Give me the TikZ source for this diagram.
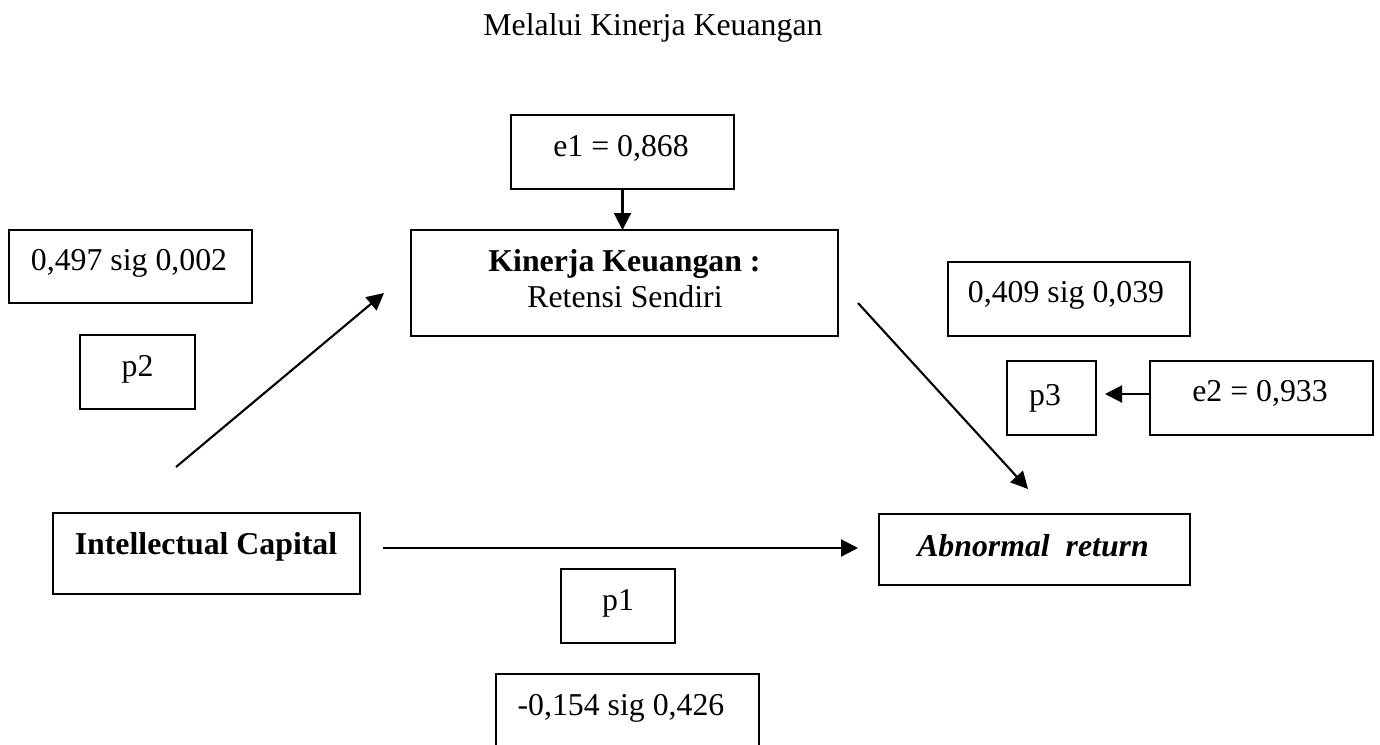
\documentclass[tikz,border=0pt]{standalone}
\usepackage{fontspec}
\setmainfont{Liberation Serif}
\usetikzlibrary{arrows.meta}
\begin{document}
\begin{tikzpicture}[x=0.5pt,y=-0.5pt,
  bx/.style={draw,line width=0.75pt,inner sep=0pt,outer sep=0pt},
  tx/.style={anchor=base,inner sep=0pt,font=\fontsize{15.9}{19}\selectfont},
  arr/.style={line width=1.05pt,-{Triangle[length=8.5pt,width=8.5pt]}}]
\useasboundingbox (0,0) rectangle (1380,744);
\clip (0,0) rectangle (1380,744);
\fill[white] (0,0) rectangle (1380,744);
% title
\node[tx,anchor=base west] (title) at (483,35) {Melalui Kinerja Keuangan};
% boxes
\node[bx,minimum width=111.5pt,minimum height=37pt] (e1) at (622.5,152) {};
\node[bx,minimum width=213.5pt,minimum height=53pt] (kin) at (624.5,283) {};
\node[bx,minimum width=121.5pt,minimum height=36.5pt] (c2) at (130.5,266.5) {};
\node[bx,minimum width=57.5pt,minimum height=37pt] (p2) at (137.5,372) {};
\node[bx,minimum width=121pt,minimum height=37pt] (c3) at (1069,299) {};
\node[bx,minimum width=44.5pt,minimum height=37pt] (p3) at (1051.5,398) {};
\node[bx,minimum width=111.5pt,minimum height=37pt] (e2) at (1261.5,398) {};
\node[bx,minimum width=153.5pt,minimum height=40.5pt] (ic) at (206.5,553.5) {};
\node[bx,minimum width=155.5pt,minimum height=35.5pt] (ar) at (1034.5,549.5) {};
\node[bx,minimum width=57pt,minimum height=37pt] (p1) at (618,606) {};
\node[bx,minimum width=131.5pt,minimum height=40pt] (c1) at (627.5,714) {};
% texts
\node[tx] (e1t) at (621,156) {e1 = 0,868};
\node[tx] (kint1) at (624.5,271) {\textbf{Kinerja Keuangan :}};
\node[tx] (kint2) at (625,307) {Retensi Sendiri};
\node[tx] (c2t) at (129,270) {0,497 sig 0,002};
\node[tx] (p2t) at (137.5,376) {p2};
\node[tx] (c3t) at (1066,302) {0,409 sig 0,039};
\node[tx] (p3t) at (1045,405) {p3};
\node[tx] (e2t) at (1260,401) {e2 = 0,933};
\node[tx] (ict) at (206,554) {\textbf{Intellectual Capital}};
\node[tx] (art) at (1033,556) {\textbf{\textit{Abnormal\ \ return}}};
\node[tx] (p1t) at (618,610) {p1};
\node[tx] (c1t) at (621,715) {-0,154 sig 0,426};
% connector ends
\coordinate (d1s) at (176,467);
\coordinate (d1e) at (384,293);
\coordinate (d2s) at (858,303);
\coordinate (d2e) at (1028,489);
\coordinate (hs) at (383,548);
\coordinate (he) at (858,548);
% connectors
\draw[arr] (e1.south) -- (e1.south |- kin.north);
\draw[arr] (d1s) -- (d1e);
\draw[arr] (d2s) -- (d2e);
\draw[arr] (hs) -- (he);
\draw[arr,shorten >=4.5pt] ([yshift=2pt]e2.west) -- ([yshift=2pt]p3.east);
\end{tikzpicture}
\end{document}
